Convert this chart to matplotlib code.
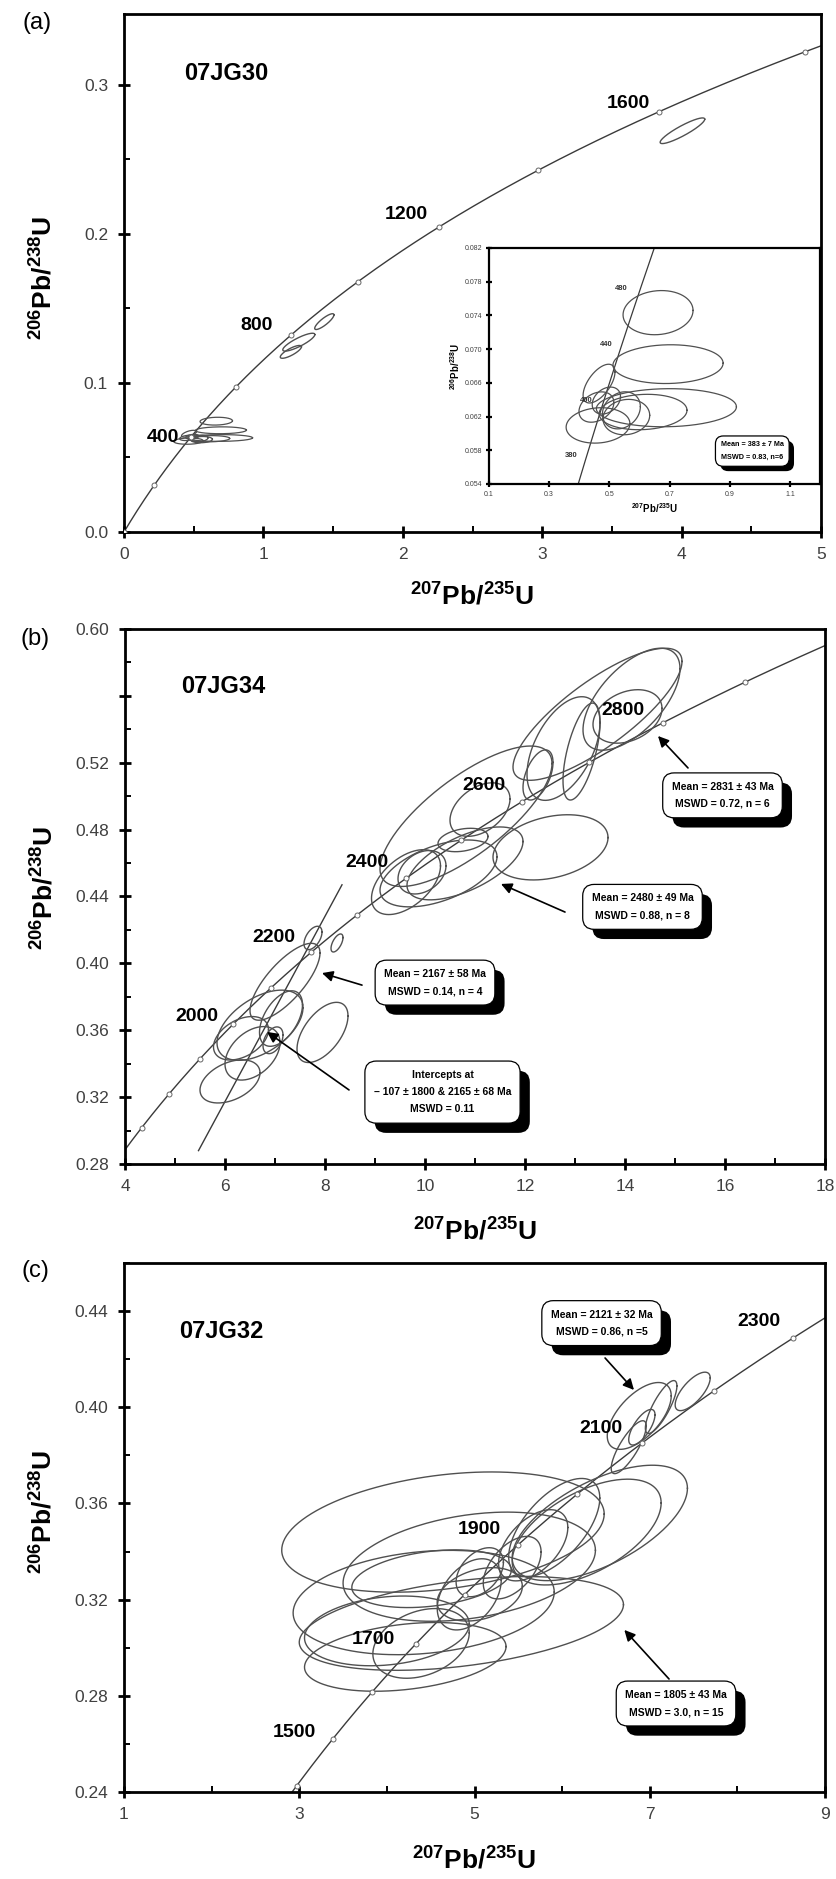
import numpy as np
import matplotlib
matplotlib.use('Agg')
import matplotlib.pyplot as plt
from matplotlib import patheffects as pe
from matplotlib.ticker import FixedLocator, FuncFormatter

plt.rcParams['font.family'] = ['Liberation Sans', 'DejaVu Sans']
plt.rcParams['mathtext.fontset'] = 'custom'
plt.rcParams['mathtext.rm'] = 'Liberation Sans'
plt.rcParams['mathtext.bf'] = 'Liberation Sans:bold'
plt.rcParams['mathtext.it'] = 'Liberation Sans:italic'

# ---------------- constants (decay constants for concordia) ----------------
LAMBDA_238 = 1.55125e-10
LAMBDA_235 = 9.8485e-10

# ---------------- panel (a) data ----------------
a_sample = '07JG30'
a_marker_ages = [0, 200, 400, 600, 800, 1000, 1200, 1400, 1600, 1800]
a_curve_range = (0, 1850)
a_label_text = ['400', '800', '1200', '1600']
a_label_x = [0.279, 0.948, 2.026, 3.616]
a_label_y = [0.0634, 0.1388, 0.2129, 0.2876]
a_xticks = [0, 1, 2, 3, 4, 5]
a_xminor = [0.5, 1.5, 2.5, 3.5, 4.5]
a_yticks = [0.0, 0.1, 0.2, 0.3]
a_yminor = [0.05, 0.15, 0.25]
a_xlim = (0, 5)
a_ylim = (0, 0.3474)
# isolated ellipses on main plot
a_ell_cx = [1.254, 1.197, 1.437, 4.006]
a_ell_cy = [0.1273, 0.1208, 0.1411, 0.2691]
a_ell_sx = [0.115, 0.076, 0.069, 0.160]
a_ell_sy = [0.0060, 0.0043, 0.0053, 0.0086]
a_ell_rho = [0.85, 0.80, 0.85, 0.90]

# inset (young cluster)
i_ell_cx = [0.6618, 0.695, 0.4657, 0.6895, 0.612, 0.5565, 0.4623, 0.457, 0.540, 0.490]
i_ell_cy = [0.07433, 0.06822, 0.06591, 0.06305, 0.06254, 0.06194, 0.06095, 0.06313, 0.06274, 0.0639]
i_ell_sx = [0.1163, 0.183, 0.053, 0.2327, 0.146, 0.0776, 0.106, 0.058, 0.063, 0.047]
i_ell_sy = [0.00262, 0.0023, 0.0023, 0.00226, 0.0021, 0.0021, 0.0021, 0.0018, 0.0022, 0.0016]
i_ell_rho = [0.1, 0.05, 0.6, 0.05, 0.1, 0.1, 0.1, 0.3, 0.2, 0.3]
i_curve_range = (330, 520)
i_label_text = ['480', '440', '400', '380']
i_label_x = [0.54, 0.49, 0.4235, 0.374]
i_label_y = [0.0772, 0.0705, 0.0639, 0.0574]
i_xticks = [0.1, 0.3, 0.5, 0.7, 0.9, 1.1]
i_yticks = [0.054, 0.058, 0.062, 0.066, 0.070, 0.074, 0.078, 0.082]
i_xlim = (0.1, 1.2)
i_ylim = (0.054, 0.082)
i_box_text = 'Mean = 383 ± 7 Ma\nMSWD = 0.83, n=6'
i_box_xy = (0.975, 0.0579)

# ---------------- panel (b) data ----------------
b_sample = '07JG34'
b_marker_ages = list(range(1600, 3100, 100))
b_curve_range = (1550, 3050)
b_label_text = ['2000', '2200', '2400', '2600', '2800']
b_label_x = [5.44, 6.97, 8.84, 11.18, 13.95]
b_label_y = [0.3682, 0.4155, 0.4604, 0.5066, 0.5515]
b_xticks = [4, 6, 8, 10, 12, 14, 16, 18]
b_xminor = [5, 7, 9, 11, 13, 15, 17]
b_yticks = [0.28, 0.32, 0.36, 0.40, 0.44, 0.48, 0.52, 0.56, 0.60]
b_yminor = [0.30, 0.34, 0.38, 0.42, 0.46, 0.50, 0.54, 0.58]
b_ytick_hidden = [0.56]
b_xlim = (4, 18)
b_ylim = (0.28, 0.60)
b_discordia_x = [5.47, 8.34]
b_discordia_y = [0.288, 0.447]
b_ell_cx = [13.45, 14.13, 14.05, 13.13, 12.77, 12.26,
            10.82, 11.10, 12.51, 10.80, 10.27, 10.76,
            9.62, 9.94,
            7.76, 8.24, 7.20,
            6.70, 7.95, 6.10, 6.55, 6.96, 6.32, 7.12]
b_ell_cy = [0.5490, 0.5580, 0.5477, 0.5267, 0.5285, 0.5127,
            0.4880, 0.4920, 0.4694, 0.4598, 0.4538, 0.4738,
            0.4486, 0.4545,
            0.4152, 0.4122, 0.3890,
            0.3630, 0.3587, 0.3294, 0.3462, 0.3540, 0.3552, 0.3670]
b_ell_sx = [1.69, 0.97, 0.69, 0.37, 0.73, 0.30,
            1.72, 0.60, 1.15, 1.16, 1.17, 0.50,
            0.69, 0.48,
            0.18, 0.12, 0.70,
            0.86, 0.51, 0.60, 0.55, 0.20, 0.55, 0.43]
b_ell_sy = [0.0395, 0.0305, 0.0160, 0.0290, 0.0310, 0.0150,
            0.0420, 0.0160, 0.0195, 0.0218, 0.0200, 0.0070,
            0.0194, 0.0130,
            0.0070, 0.0054, 0.0230,
            0.0210, 0.0180, 0.0129, 0.0160, 0.0080, 0.0130, 0.0166]
b_ell_rho = [0.8, 0.6, 0.3, 0.6, 0.5, 0.5,
             0.75, 0.4, 0.3, 0.6, 0.5, 0.3,
             0.5, 0.3,
             0.5, 0.6, 0.75,
             0.5, 0.55, 0.4, 0.4, 0.4, 0.4, 0.5]
b_box_text = ['Mean = 2831 ± 43 Ma\nMSWD = 0.72, n = 6',
              'Mean = 2480 ± 49 Ma\nMSWD = 0.88, n = 8',
              'Mean = 2167 ± 58 Ma\nMSWD = 0.14, n = 4',
              'Intercepts at\n– 107 ± 1800 & 2165 ± 68 Ma\nMSWD = 0.11']
b_box_x = [15.95, 14.35, 10.2, 10.35]
b_box_y = [0.5005, 0.4338, 0.3885, 0.3230]
b_arrow_from_x = [15.26, 12.80, 8.74, 8.48]
b_arrow_from_y = [0.5169, 0.4307, 0.3870, 0.3243]
b_arrow_to_x = [14.66, 11.52, 7.94, 6.84]
b_arrow_to_y = [0.5360, 0.4475, 0.3942, 0.3590]

# ---------------- panel (c) data ----------------
c_sample = '07JG32'
c_marker_ages = list(range(1400, 2500, 100))
c_curve_range = (1350, 2400)
c_label_text = ['2300', '2100', '1900', '1700', '1500']
c_label_x = [8.25, 6.44, 5.06, 3.845, 2.945]
c_label_y = [0.4357, 0.391, 0.349, 0.3036, 0.2647]
c_xticks = [1, 3, 5, 7, 9]
c_xminor = [2, 4, 6, 8]
c_yticks = [0.24, 0.28, 0.32, 0.36, 0.40, 0.44]
c_yminor = [0.26, 0.30, 0.34, 0.38, 0.42, 0.46]
c_xlim = (1, 9)
c_ylim = (0.24, 0.46)
c_ell_cx = [4.64, 4.94, 4.42, 4.85, 4.00, 4.21, 4.39, 4.51, 6.43, 6.28, 5.91, 5.67,
            5.06, 4.94, 5.43, 5.06, 6.88, 7.13, 7.49, 6.91, 6.76]
c_ell_cy = [0.3481, 0.3337, 0.3188, 0.3101, 0.3070, 0.2962, 0.3018, 0.3287, 0.3519, 0.3481,
            0.3500, 0.3426, 0.3314, 0.3222, 0.3333, 0.3222, 0.3964, 0.4001, 0.4066, 0.3917, 0.3834]
c_ell_sx = [1.84, 1.44, 1.49, 1.85, 0.94, 1.15, 0.55, 0.91, 1.00, 0.85, 0.52, 0.395,
            0.27, 0.365, 0.33, 0.486, 0.365, 0.18, 0.20, 0.15, 0.20]
c_ell_sy = [0.0250, 0.0227, 0.0217, 0.0195, 0.0145, 0.0143, 0.0145, 0.0120, 0.0240, 0.0220,
            0.0204, 0.0148, 0.0102, 0.0148, 0.0130, 0.0111, 0.0139, 0.0110, 0.0080, 0.0074, 0.0110]
c_ell_rho = [0.3, 0.3, 0.2, 0.4, 0.2, 0.3, 0.3, 0.3, 0.6, 0.55, 0.6, 0.5,
             0.4, 0.4, 0.5, 0.3, 0.6, 0.8, 0.7, 0.7, 0.8]
c_box_text = ['Mean = 2121 ± 32 Ma\nMSWD = 0.86, n =5',
              'Mean = 1805 ± 43 Ma\nMSWD = 3.0, n = 15']
c_box_x = [6.45, 7.30]
c_box_y = [0.4350, 0.2768]
c_arrow_from_x = [6.49, 7.22]
c_arrow_from_y = [0.4205, 0.2870]
c_arrow_to_x = [6.82, 6.71]
c_arrow_to_y = [0.4072, 0.3074]

# ---------------- helpers ----------------
LINE = '#3a3a3a'
ELL = '#505050'


def concordia(ages_ma):
    t = np.asarray(ages_ma, float) * 1e6
    return np.exp(LAMBDA_235 * t) - 1, np.exp(LAMBDA_238 * t) - 1


def draw_concordia(ax, age_range, marker_ages, lw=1.0, ms=3.6):
    ages = np.linspace(age_range[0], age_range[1], 400)
    x, y = concordia(ages)
    ax.plot(x, y, color=LINE, lw=lw, zorder=2)
    if marker_ages:
        mx, my = concordia(marker_ages)
        ax.plot(mx, my, 'o', ms=ms, mfc='white', mec='#666666', mew=0.7, zorder=3)


def draw_ellipses(ax, cx, cy, sx, sy, rho, lw=1.0):
    t = np.linspace(0, 2 * np.pi, 240)
    for a, b, c, d, r in zip(cx, cy, sx, sy, rho):
        x = a + c * np.cos(t)
        y = b + d * (r * np.cos(t) + np.sqrt(1 - r * r) * np.sin(t))
        ax.plot(x, y, color=ELL, lw=lw, zorder=2)


def style(ax, xticks, xminor, yticks, yminor, xfmt, yfmt, fs=12.5, lw=2.0,
          majlen=9, minlen=4, xpad=6, ypad=7, hidden=()):
    for s in ax.spines.values():
        s.set_linewidth(lw)
    ax.xaxis.set_major_locator(FixedLocator(xticks))
    ax.yaxis.set_major_locator(FixedLocator(yticks))
    ax.xaxis.set_minor_locator(FixedLocator(xminor))
    ax.yaxis.set_minor_locator(FixedLocator(yminor))
    ax.xaxis.set_major_formatter(FuncFormatter(lambda v, p: xfmt.format(v)))
    ax.yaxis.set_major_formatter(FuncFormatter(
        lambda v, p: '' if any(abs(v - h) < 1e-9 for h in hidden) else yfmt.format(v)))
    ax.tick_params(which='major', direction='inout', length=majlen, width=lw,
                   labelsize=fs, labelcolor='#404040', top=False, right=False)
    ax.tick_params(axis='x', which='major', pad=xpad)
    ax.tick_params(axis='y', which='major', pad=ypad)
    ax.tick_params(which='minor', direction='in', length=minlen, width=lw * 0.7,
                   top=False, right=False)


def add_box(ax, text, xy, fs, pad=0.85, shadow=7, linespacing=1.9):
    t = ax.text(xy[0], xy[1], text, ha='center', va='center', fontsize=fs,
                fontweight='bold', linespacing=linespacing, zorder=6,
                bbox=dict(boxstyle=f'round,pad={pad},rounding_size=1.1', fc='white',
                          ec='black', lw=0.9))
    t.get_bbox_patch().set_path_effects([
        pe.SimplePatchShadow(offset=(shadow, -shadow), shadow_rgbFace='black', alpha=1.0),
        pe.Normal()])
    return t


def add_arrow(ax, start, tip):
    ax.annotate('', xy=tip, xytext=start, zorder=5,
                arrowprops=dict(arrowstyle='-|>', color='black', lw=1.2,
                                mutation_scale=16, shrinkA=0, shrinkB=0))


XLABEL = r'$\mathbf{^{207}Pb/^{235}U}$'
YLABEL = r'$\mathbf{^{206}Pb/^{238}U}$'

# ---------------- figure ----------------
W, H = 836, 1879
fig = plt.figure(figsize=(W / 100, H / 100), dpi=100)


def add_axes(left, top, right, bottom):
    return fig.add_axes([left / W, 1 - bottom / H, (right - left) / W, (bottom - top) / H])


axA = add_axes(124, 14, 821, 532)
axB = add_axes(125, 629, 825, 1164)
axC = add_axes(124, 1263, 825, 1792)
axI = add_axes(489, 248, 820, 484)

# ----- panel (a)
draw_concordia(axA, a_curve_range, a_marker_ages)
draw_ellipses(axA, a_ell_cx, a_ell_cy, a_ell_sx, a_ell_sy, a_ell_rho)
draw_ellipses(axA, i_ell_cx, i_ell_cy, i_ell_sx, i_ell_sy, i_ell_rho, lw=0.9)
for s, x, y in zip(a_label_text, a_label_x, a_label_y):
    axA.text(x, y, s, ha='center', va='center', fontsize=14, fontweight='bold', zorder=4)
axA.set_xlim(*a_xlim)
axA.set_ylim(*a_ylim)
style(axA, a_xticks, a_xminor, a_yticks, a_yminor, '{:.0f}', '{:.1f}')
axA.text(0.086, 0.886, a_sample, transform=axA.transAxes, fontsize=17,
         fontweight='bold', ha='left', va='center')
axA.set_xlabel(XLABEL, fontsize=19)
axA.set_ylabel(YLABEL, fontsize=19)
axA.xaxis.set_label_coords(0.5, -0.098)
axA.yaxis.set_label_coords(-0.096, 0.49)

# ----- inset
draw_concordia(axI, i_curve_range, None, lw=0.9)
draw_ellipses(axI, i_ell_cx, i_ell_cy, i_ell_sx, i_ell_sy, i_ell_rho, lw=0.9)
for s, x, y in zip(i_label_text, i_label_x, i_label_y):
    axI.text(x, y, s, ha='center', va='center', fontsize=5.5, fontweight='bold',
             color='#333', zorder=4)
axI.set_xlim(*i_xlim)
axI.set_ylim(*i_ylim)
style(axI, i_xticks, [], i_yticks, [], '{:.1f}', '{:.3f}', fs=5, lw=1.6,
      majlen=4, minlen=2, xpad=3, ypad=3)
axI.set_xlabel(XLABEL, fontsize=7, labelpad=2)
axI.set_ylabel(YLABEL, fontsize=7, labelpad=2)
add_box(axI, i_box_text, i_box_xy, 5.2, pad=0.75, shadow=3.5, linespacing=2.1)

# ----- panel (b)
draw_concordia(axB, b_curve_range, b_marker_ages)
axB.plot(b_discordia_x, b_discordia_y, color=LINE, lw=1.0, zorder=2)
draw_ellipses(axB, b_ell_cx, b_ell_cy, b_ell_sx, b_ell_sy, b_ell_rho)
for s, x, y in zip(b_label_text, b_label_x, b_label_y):
    axB.text(x, y, s, ha='center', va='center', fontsize=14, fontweight='bold', zorder=4)
for txt, bx, by, fx, fy, tx, ty in zip(b_box_text, b_box_x, b_box_y, b_arrow_from_x,
                                        b_arrow_from_y, b_arrow_to_x, b_arrow_to_y):
    add_arrow(axB, (fx, fy), (tx, ty))
    add_box(axB, txt, (bx, by), 7.5)
axB.set_xlim(*b_xlim)
axB.set_ylim(*b_ylim)
style(axB, b_xticks, b_xminor, b_yticks, b_yminor, '{:.0f}', '{:.2f}', hidden=b_ytick_hidden)
axB.text(0.08, 0.893, b_sample, transform=axB.transAxes, fontsize=17,
         fontweight='bold', ha='left', va='center')
axB.set_xlabel(XLABEL, fontsize=19)
axB.set_ylabel(YLABEL, fontsize=19)
axB.xaxis.set_label_coords(0.5, -0.101)
axB.yaxis.set_label_coords(-0.096, 0.516)

# ----- panel (c)
draw_concordia(axC, c_curve_range, c_marker_ages)
draw_ellipses(axC, c_ell_cx, c_ell_cy, c_ell_sx, c_ell_sy, c_ell_rho)
for s, x, y in zip(c_label_text, c_label_x, c_label_y):
    axC.text(x, y, s, ha='center', va='center', fontsize=14, fontweight='bold', zorder=4)
for txt, bx, by, fx, fy, tx, ty in zip(c_box_text, c_box_x, c_box_y, c_arrow_from_x,
                                        c_arrow_from_y, c_arrow_to_x, c_arrow_to_y):
    add_arrow(axC, (fx, fy), (tx, ty))
    add_box(axC, txt, (bx, by), 7.5)
axC.set_xlim(*c_xlim)
axC.set_ylim(*c_ylim)
style(axC, c_xticks, c_xminor, c_yticks, c_yminor, '{:.0f}', '{:.2f}')
axC.text(0.078, 0.870, c_sample, transform=axC.transAxes, fontsize=17,
         fontweight='bold', ha='left', va='center')
axC.set_xlabel(XLABEL, fontsize=19)
axC.set_ylabel(YLABEL, fontsize=19)
axC.xaxis.set_label_coords(0.5, -0.104)
axC.yaxis.set_label_coords(-0.096, 0.529)

# panel letters
fig.text(37 / W, 1 - 23 / H, '(a)', fontsize=17, ha='center', va='center')
fig.text(35 / W, 1 - 639 / H, '(b)', fontsize=17, ha='center', va='center')
fig.text(35 / W, 1 - 1271 / H, '(c)', fontsize=17, ha='center', va='center')

fig.savefig('out.png', dpi=100, facecolor='white')
